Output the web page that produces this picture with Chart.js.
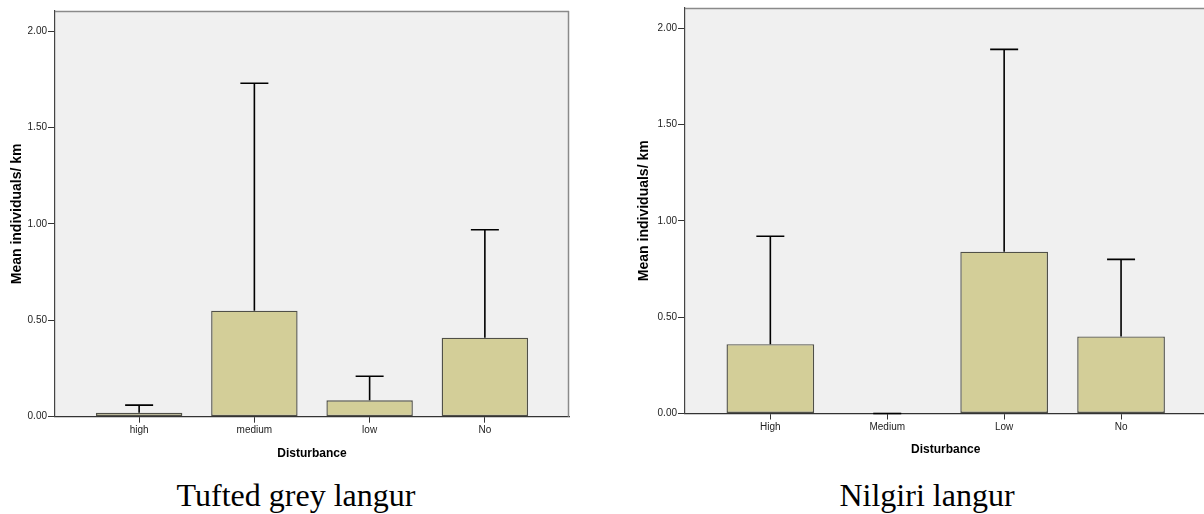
<!DOCTYPE html>
<html>
<head>
<meta charset="utf-8">
<script src="https://cdn.jsdelivr.net/npm/chart.js@4.4.1/dist/chart.umd.min.js"></script>
<style>
html,body{margin:0;padding:0;background:#fff;overflow:hidden;width:1204px;height:514px;}
#wrap{position:relative;width:1204px;height:514px;overflow:hidden;background:#fff;}
canvas{position:absolute;top:0;}
#c1{left:0;}
#c2{left:600px;}
.cap{position:absolute;font-family:"Liberation Serif","Times New Roman",serif;font-size:32px;line-height:32px;white-space:nowrap;color:#000;transform:translateX(-50%);}
</style>
</head>
<body>
<div id="wrap">
<canvas id="c1" width="600" height="470"></canvas>
<canvas id="c2" width="620" height="470"></canvas>
<div class="cap" style="left:296px;top:479px;">Tufted grey langur</div>
<div class="cap" style="left:927px;top:479px;">Nilgiri langur</div>
</div>
<script>
// ---- data ----
const tuftedCategories = ['high', 'medium', 'low', 'No'];
const tuftedMeans      = [0.02, 0.55, 0.085, 0.41];
const tuftedUpper      = [0.06, 1.73, 0.21, 0.97];

const nilgiriCategories = ['High', 'Medium', 'Low', 'No'];
const nilgiriMeans      = [0.36, 0.00, 0.84, 0.40];
const nilgiriUpper      = [0.92, 0.00, 1.89, 0.80];

const yTickValues = [0, 0.5, 1.0, 1.5, 2.0];
const xAxisTitle = 'Disturbance';
const yAxisTitle = 'Mean individuals/ km';

// ---- styling ----
const SANS = '"Liberation Sans", Arial, Helvetica, sans-serif';
const BAR_FILL = '#D3CE98';
const BAR_EDGE = '#505048';
const PLOT_BG = '#F0F0F0';

const bgPlugin = {
  id: 'plotBg',
  beforeDraw(chart) {
    const {ctx, chartArea: a} = chart;
    ctx.save();
    ctx.fillStyle = PLOT_BG;
    ctx.fillRect(a.left, a.top, a.right - a.left, a.bottom - a.top);
    ctx.restore();
  },
  afterDraw(chart) {
    const {ctx, chartArea: a} = chart;
    ctx.save();
    ctx.strokeStyle = '#8a8a8a';
    ctx.lineWidth = 1.5;
    ctx.beginPath();
    ctx.moveTo(a.left, a.top + 0.5);
    ctx.lineTo(a.right, a.top + 0.5);
    ctx.moveTo(a.right - 0.5, a.top);
    ctx.lineTo(a.right - 0.5, a.bottom);
    ctx.stroke();
    ctx.restore();
  }
};

const errPlugin = {
  id: 'errBars',
  afterDatasetsDraw(chart, args, opts) {
    const {ctx} = chart;
    const xs = chart.scales.x, ys = chart.scales.y;
    ctx.save();
    ctx.strokeStyle = '#000';
    ctx.lineWidth = 1.6;
    opts.upper.forEach((u, i) => {
      const x = xs.getPixelForValue(i);
      const y0 = ys.getPixelForValue(opts.means[i]);
      const y1 = ys.getPixelForValue(u);
      ctx.beginPath();
      ctx.moveTo(x, y0);
      ctx.lineTo(x, y1);
      ctx.moveTo(x - 14, y1);
      ctx.lineTo(x + 14, y1);
      ctx.stroke();
    });
    ctx.restore();
  }
};

function makeChart(id, cats, means, upper, g) {
  return new Chart(document.getElementById(id), {
    type: 'bar',
    data: {
      datasets: [{
        data: cats.map((c, i) => ({x: i, y: means[i]})),
        backgroundColor: BAR_FILL,
        borderColor: BAR_EDGE,
        borderWidth: 1.4,
        borderSkipped: false,
        categoryPercentage: 1,
        barPercentage: 0.75
      }]
    },
    options: {
      responsive: false,
      animation: false,
      devicePixelRatio: 1,
      layout: {padding: {top: g.top, right: g.right, left: 0, bottom: 0}},
      plugins: {
        legend: {display: false},
        tooltip: {enabled: false},
        errBars: {means: means, upper: upper}
      },
      scales: {
        x: {
          type: 'linear',
          offset: false,
          min: -0.73,
          max: 3.73,
          afterBuildTicks: s => { s.ticks = cats.map((c, i) => ({value: i})); },
          afterFit: s => { s.height = g.xh; },
          ticks: {
            callback: v => cats[v],
            autoSkip: false,
            maxRotation: 0,
            padding: 2,
            color: '#222',
            font: {family: SANS, size: 10}
          },
          grid: {drawOnChartArea: false, drawTicks: true, tickLength: 6, color: '#333', offset: false},
          border: {display: true, color: '#333', width: 1.2},
          title: {
            display: true,
            text: xAxisTitle,
            color: '#000',
            font: {family: SANS, size: 12, weight: 'bold'},
            padding: {top: 0, bottom: g.xtp}
          }
        },
        y: {
          min: 0,
          max: 2.105,
          afterBuildTicks: s => { s.ticks = yTickValues.map(v => ({value: v})); },
          afterFit: s => { s.width = g.yw; },
          ticks: {
            callback: v => Number(v).toFixed(2),
            padding: 1,
            color: '#222',
            font: {family: SANS, size: 10}
          },
          grid: {drawOnChartArea: false, drawTicks: true, tickLength: 7, color: '#333'},
          border: {display: true, color: '#444', width: 1.2},
          title: {
            display: true,
            text: yAxisTitle,
            color: '#000',
            font: {family: SANS, size: 14, weight: 'bold'},
            padding: {top: g.ytp, bottom: 0}
          }
        }
      }
    },
    plugins: [bgPlugin, errPlugin]
  });
}

makeChart('c1', tuftedCategories, tuftedMeans, tuftedUpper,
  {top: 11, right: 31, xh: 53.3, xtp: 9.5, yw: 55, ytp: 8.5});
makeChart('c2', nilgiriCategories, nilgiriMeans, nilgiriUpper,
  {top: 8, right: 13.6, xh: 56.5, xtp: 12.8, yw: 85, ytp: 36.2});
</script>
</body>
</html>
